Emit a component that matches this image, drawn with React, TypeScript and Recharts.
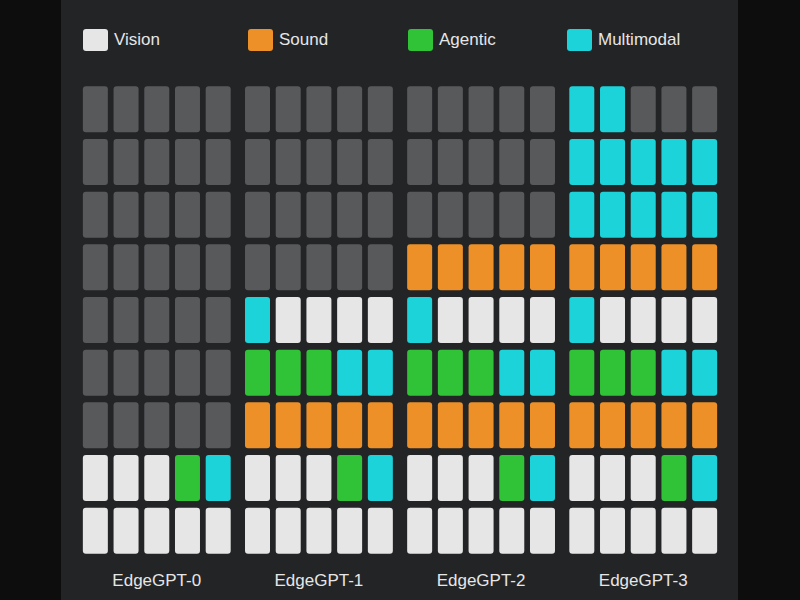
import React from "react";
import { ScatterChart, Scatter, XAxis, YAxis, Legend } from "recharts";

// each group: 9 rows top -> bottom, 5 cells per row
// V = Vision, S = Sound, A = Agentic, M = Multimodal, . = empty
const models = ["EdgeGPT-0", "EdgeGPT-1", "EdgeGPT-2", "EdgeGPT-3"];

const edgeGpt0 = [".....", ".....", ".....", ".....", ".....", ".....", ".....", "VVVAM", "VVVVV"];
const edgeGpt1 = [".....", ".....", ".....", ".....", "MVVVV", "AAAMM", "SSSSS", "VVVAM", "VVVVV"];
const edgeGpt2 = [".....", ".....", ".....", "SSSSS", "MVVVV", "AAAMM", "SSSSS", "VVVAM", "VVVVV"];
const edgeGpt3 = ["MM...", "MMMMM", "MMMMM", "SSSSS", "MVVVV", "AAAMM", "SSSSS", "VVVAM", "VVVVV"];

const grids = [edgeGpt0, edgeGpt1, edgeGpt2, edgeGpt3];

const categories = [
  { key: "V", name: "Vision", color: "#e6e6e6" },
  { key: "S", name: "Sound", color: "#ee9028" },
  { key: "A", name: "Agentic", color: "#30c338" },
  { key: "M", name: "Multimodal", color: "#1dd3da" },
];
const EMPTY = { key: ".", name: "Empty", color: "#58595b" };

const GROUP_STEP = 5.28;
const CELL_W = 25;
const CELL_H = 46;

const cellsFor = (key: string) => {
  const pts: { x: number; y: number }[] = [];
  grids.forEach((rows, g) => {
    rows.forEach((row, r) => {
      row.split("").forEach((c, col) => {
        if (c === key) pts.push({ x: g * GROUP_STEP + col, y: r });
      });
    });
  });
  return pts;
};

const groupTicks = models.map((_, g) => g * GROUP_STEP + 2);

const Cell = (props: any) => {
  const { cx, cy, fill } = props;
  return <rect x={cx - CELL_W / 2} y={cy - CELL_H / 2} width={CELL_W} height={CELL_H} rx={3} ry={3} fill={fill} />;
};

const legendLefts = [83, 248, 408, 567];

const LegendContent = () => (
  <div style={{ position: "relative", width: 800, height: 24 }}>
    {categories.map((c, i) => (
      <div
        key={c.key}
        style={{ position: "absolute", left: legendLefts[i], top: 0, display: "flex", alignItems: "center" }}
      >
        <div style={{ width: 25, height: 22, borderRadius: 3, background: c.color }} />
        <span style={{ marginLeft: 6, color: "#e6e6e6", fontSize: 17, fontFamily: "'Liberation Sans', Arial, sans-serif" }}>
          {c.name}
        </span>
      </div>
    ))}
  </div>
);

export default function App() {
  return (
    <div style={{ position: "fixed", left: 0, top: 0, width: 800, height: 600, background: "#0d0d0e" }}>
      <div style={{ position: "absolute", left: 61, top: 0, width: 677, height: 600, background: "#232426" }} />
      <div style={{ position: "absolute", left: 0, top: 0 }}>
        <ScatterChart width={800} height={600} margin={{ top: 59, right: 80, bottom: 3, left: 80 }}>
          <XAxis
            type="number"
            dataKey="x"
            domain={[-0.5, 3 * GROUP_STEP + 4.5]}
            ticks={groupTicks}
            tickFormatter={(v: number) => models[Math.round((v - 2) / GROUP_STEP)]}
            axisLine={false}
            tickLine={false}
            tickMargin={11}
            height={40}
            interval={0}
            tick={{ fill: "#e6e6e6", fontSize: 17, fontFamily: "'Liberation Sans', Arial, sans-serif" }}
          />
          <YAxis type="number" dataKey="y" domain={[-0.5, 8.5]} reversed hide />
          <Legend
            verticalAlign="top"
            content={<LegendContent />}
            wrapperStyle={{ top: 29, left: 0, width: 800 }}
          />
          <Scatter name={EMPTY.name} data={cellsFor(EMPTY.key)} fill={EMPTY.color} shape={<Cell />} isAnimationActive={false} legendType="none" />
          {categories.map((c) => (
            <Scatter
              key={c.key}
              name={c.name}
              data={cellsFor(c.key)}
              fill={c.color}
              shape={<Cell />}
              isAnimationActive={false}
            />
          ))}
        </ScatterChart>
      </div>
    </div>
  );
}
